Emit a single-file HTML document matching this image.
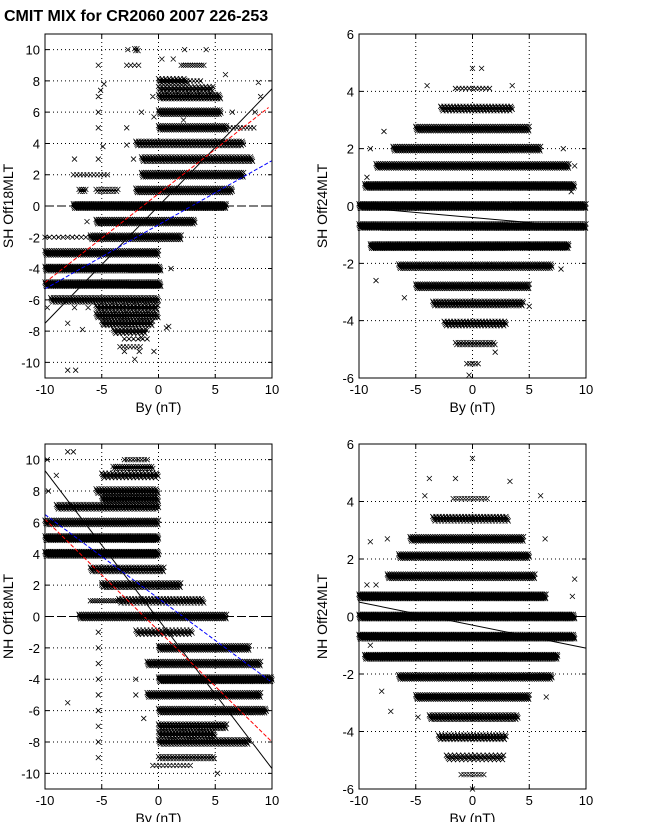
<!DOCTYPE html>
<html><head><meta charset="utf-8"><style>
body{margin:0;background:#fff;width:647px;height:822px;overflow:hidden;font-family:"Liberation Sans",sans-serif}
svg{display:block}
</style></head><body>
<svg id="fig" width="647" height="822" xmlns="http://www.w3.org/2000/svg">
<text x="4" y="21" font-size="16" font-weight="bold">CMIT MIX for CR2060 2007 226-253</text>
</svg>
<script>
// ---- data: bands [y, xmin, xmax, stepInData] and outlier points [x,y] ----
const tlBands=[[10,-2.1,-1.8,0.1],[9,-2.8,-1.7,0.35],[9,2,4,0.2],[8,0,2.5,0.08],[8,2.5,3.7,0.3],[7.5,0,4.8,0.08],[7,0,5.5,0.06],[6,0,5.5,0.05],[5,0,6,0.05],[5,6,8.5,0.3],[4,-2,7.5,0.06],[3,-1.5,8.3,0.06],[2,-7.5,-4.3,0.3],[2,-1.5,7.5,0.05],[1,-7,-6.4,0.1],[1,-5.5,-3.5,0.12],[1,-2,6.5,0.05],[0,-7.5,6,0.04],[-1,-5.5,3.2,0.05],[-2,-10,-6,0.4],[-2,-6,2,0.05],[-3,-10,0,0.05],[-4,-10,0.2,0.04],[-5,-10,0.2,0.04],[-6,-9.5,0,0.06],[-6.5,-5.5,0,0.08],[-7,-5.5,0,0.06],[-7.5,-5,-0.5,0.07],[-8,-4,-1,0.08],[-8.5,-3,-1,0.4],[-9,-3.4,-1.5,0.3]];
const tlPts=[[2.3,10],[4.2,10],[-2.7,10],[-5.3,9],[0.3,9.4],[1.3,9.4],[-5.3,7],[-5.1,7.4],[-4.8,7.8],[-5.3,6],[-1.5,6],[-0.5,7],[6.5,6],[8.5,6],[9,7],[8.8,7.9],[-5.3,5],[-2.8,5],[-7.4,3],[-5.3,3],[-2.2,3],[-4.9,3.8],[-2.8,3.9],[-6.3,-1],[-4.1,-2],[1.1,-4],[-8,-10.5],[-7.3,-10.5],[-2.1,-9.8],[-3,-9.3],[-1.7,-9.3],[-0.4,-9.3],[-8,-7.5],[-6.7,-7.9],[-7.4,-6.5],[-6.2,-6.5],[-9.8,-6.5],[-1.5,-8.4],[0.7,-7.8],[5.9,8.4],[0.9,-7.7],[2.2,5.5],[-0.4,5.7]];
const tlLines=[[-10,-7.5,10,7.5,'#000','none'],[-10,-4.9,9.7,6.3,'#f00','4,2'],[-10,-5.3,10,2.9,'#00f','4,2'],[-10,0,10,0,'#000','8,4']];

const trBands=[[4.1,-1.5,1.5,0.3],[3.4,-2.8,3.5,0.07],[2.7,-5,5,0.05],[2,-7,6,0.05],[1.4,-8.5,8.5,0.05],[0.7,-9.5,9,0.04],[0,-10,10,0.04],[-0.7,-10,10,0.04],[-1.4,-9,8.5,0.04],[-2.1,-6.5,7,0.05],[-2.8,-5,5,0.05],[-3.4,-3.5,4.5,0.06],[-4.1,-2.5,3,0.07],[-4.8,-1.5,2,0.12],[-5.5,-0.5,0.5,0.25]];
const trPts=[[0,4.8],[0.8,4.8],[-4,4.2],[3.5,4.2],[-9,2],[-7.8,2.6],[8,2],[9,1.4],[-9.3,1],[8.7,0.5],[-8.5,-2.6],[7.8,-2.2],[-6,-3.2],[5,-3.5],[-0.3,-5.9],[2,-5.1]];
const trLines=[[-10,-0.05,10,-0.75,'#000','none']];

const blBands=[[10.5,-8,-7.5,0.5],[10,-3,-1,0.25],[9.5,-4,-0.5,0.1],[9,-5,0,0.08],[8,-5.5,0,0.06],[7.5,-5,0,0.06],[7,-9,0,0.06],[6,-10,0,0.05],[5,-10,0,0.04],[4,-10,0,0.04],[3,-6,0.5,0.06],[2,-5,2,0.06],[1,-6,-3.5,0.2],[1,-3.5,4,0.07],[0,-7,6,0.05],[-1,-2,3,0.08],[-2,0,8,0.05],[-3,-1,9,0.05],[-4,0,10,0.04],[-5,-1,9,0.05],[-6,0,9.5,0.05],[-7,0,6,0.06],[-7.5,0,5,0.07],[-8,0,8,0.06],[-9,0,5,0.12],[-9.5,-0.5,3,0.3]];
const blPts=[[-9.8,10],[-9,9],[-9.7,8],[-5,2],[-5.3,-1],[-5.3,-2],[-5.3,-3],[-5.3,-4],[-5.3,-5],[-5.3,-6],[-5.3,-7],[-5.3,-8],[-5.3,-9],[-2,-5],[-2,-4],[-1.3,-6.5],[-0.5,-3],[5.2,-10],[-8,-5.5]];
const blLines=[[-10,9.3,10,-9.7,'#000','none'],[-10,6.2,10,-8,'#f00','4,2'],[-10,6.5,10,-4.2,'#00f','4,2'],[-10,0,10,0,'#000','8,4']];

const brBands=[[4.1,-1.7,1.5,0.25],[3.4,-3.5,3.2,0.07],[2.7,-5.5,4.5,0.05],[2.1,-6.5,5,0.05],[1.4,-7.5,5.5,0.05],[0.7,-10,6.5,0.04],[0,-10,9,0.04],[-0.7,-10,9,0.04],[-1.4,-9.5,7.5,0.04],[-2.1,-6.5,7,0.05],[-2.8,-5,5,0.05],[-3.5,-3.8,4,0.06],[-4.2,-3,3,0.07],[-4.9,-2.3,2.8,0.09],[-5.5,-1,1,0.25]];
const brPts=[[0,5.5],[-1.5,4.8],[-3.8,4.8],[3.3,4.7],[-4.2,4.2],[6,4.2],[-9,2.6],[-7.5,2.7],[6.4,2.7],[9,1.3],[-9.3,1.1],[-8.5,1.1],[8.8,0.7],[-9,-1],[-8,-2.6],[-7.2,-3.3],[-4.8,-3.5],[6.5,-2.8],[0,-6]];
const brLines=[[-10,0.5,10,-1.1,'#000','none'],[-10,0,10,0,'#000','none']];

const ticksX=[-10,-5,0,5,10];
const ticksBig=[-10,-8,-6,-4,-2,0,2,4,6,8,10];
const ticksSmall=[-6,-4,-2,0,2,4,6];

const NS='http://www.w3.org/2000/svg';
const fig=document.getElementById('fig');
function mk(tag,attrs,parent){const e=document.createElementNS(NS,tag);for(const k in attrs)e.setAttribute(k,attrs[k]);(parent||fig).appendChild(e);return e;}

function panel(name,L,T,R,B,ymin,ymax,yt,bands,pts,lines,ylabel){
  const g=mk('g',{});
  
  
  const sx=v=>L+(v+10)/20*(R-L);
  const sy=v=>B-(v-ymin)/(ymax-ymin)*(B-T);
  let gd='';
  ticksX.slice(1,-1).forEach(t=>{gd+=`M${sx(t)},${T}V${B}`;});
  yt.slice(ymin===yt[0]?1:0,ymax===yt[yt.length-1]?-1:undefined).forEach(t=>{gd+=`M${L},${sy(t)}H${R}`;});
  const grid=mk('path',{d:gd,stroke:'#000','stroke-width':1,'stroke-dasharray':'1,3',fill:'none'},g);
  
  
  const h=2.5;
  bands.forEach(b=>{
    let d='';
    const offs=b[3]<0.1?[-2.2,-0.7,0.8,2.2]:(b[3]<0.2?[-1,1]:[0]);
    let i=0;
    for(let x=b[1];x<=b[2]+1e-9;x+=b[3]){const px=sx(x);const py=sy(b[0])+offs[i%offs.length];i++;d+=`M${px-h},${py-h}L${px+h},${py+h}M${px-h},${py+h}L${px+h},${py-h}`;}
    const p=mk('path',{d:d,stroke:'#000','stroke-width':0.8,fill:'none'},g);
    
    
  });
  let od='';
  pts.forEach(q=>{const px=sx(q[0]),py=sy(q[1]);od+=`M${px-h},${py-h}L${px+h},${py+h}M${px-h},${py+h}L${px+h},${py-h}`;});
  const op=mk('path',{d:od,stroke:'#000','stroke-width':0.8,fill:'none'},g);
  
  
  lines.forEach(l=>{
    const ln=mk('line',{x1:sx(l[0]),y1:sy(l[1]),x2:sx(l[2]),y2:sy(l[3]),stroke:l[4],'stroke-width':1,'stroke-dasharray':l[5]},g);
    
    
  });
  const fr=mk('rect',{x:L,y:T,width:R-L,height:B-T,fill:'none',stroke:'#000','stroke-width':1},g);
  
  
  let td='';
  ticksX.forEach(t=>{const x=sx(t);td+=`M${x},${B}v-4M${x},${T}v4`;
    const tx=mk('text',{x:x,y:B+16,'font-size':13,'text-anchor':'middle'},g);tx.textContent=t;
    
    });
  yt.forEach(t=>{const y=sy(t);td+=`M${L},${y}h4M${R},${y}h-4`;
    const tx=mk('text',{x:L-5,y:y+5,'font-size':13,'text-anchor':'end'},g);tx.textContent=t;
    
    });
  mk('path',{d:td,stroke:'#000','stroke-width':1},g);
  const xl=mk('text',{x:(L+R)/2,y:B+34,'font-size':14,'text-anchor':'middle'},g);xl.textContent='By (nT)';
  
  
  const cy=(T+B)/2;
  const yl=mk('text',{x:L-32,y:cy,'font-size':14,'text-anchor':'middle',transform:`rotate(-90 ${L-32} ${cy})`},g);yl.textContent=ylabel;
  
  
}
panel('sh-off18mlt-panel',45,34,272,378,-11,11,ticksBig,tlBands,tlPts,tlLines,'SH Off18MLT');
panel('sh-off24mlt-panel',359,34,586,378,-6,6,ticksSmall,trBands,trPts,trLines,'SH Off24MLT');
panel('nh-off18mlt-panel',45,444,272,789,-11,11,ticksBig,blBands,blPts,blLines,'NH Off18MLT');
panel('nh-off24mlt-panel',359,444,586,789,-6,6,ticksSmall,brBands,brPts,brLines,'NH Off24MLT');
</script>
</body></html>
